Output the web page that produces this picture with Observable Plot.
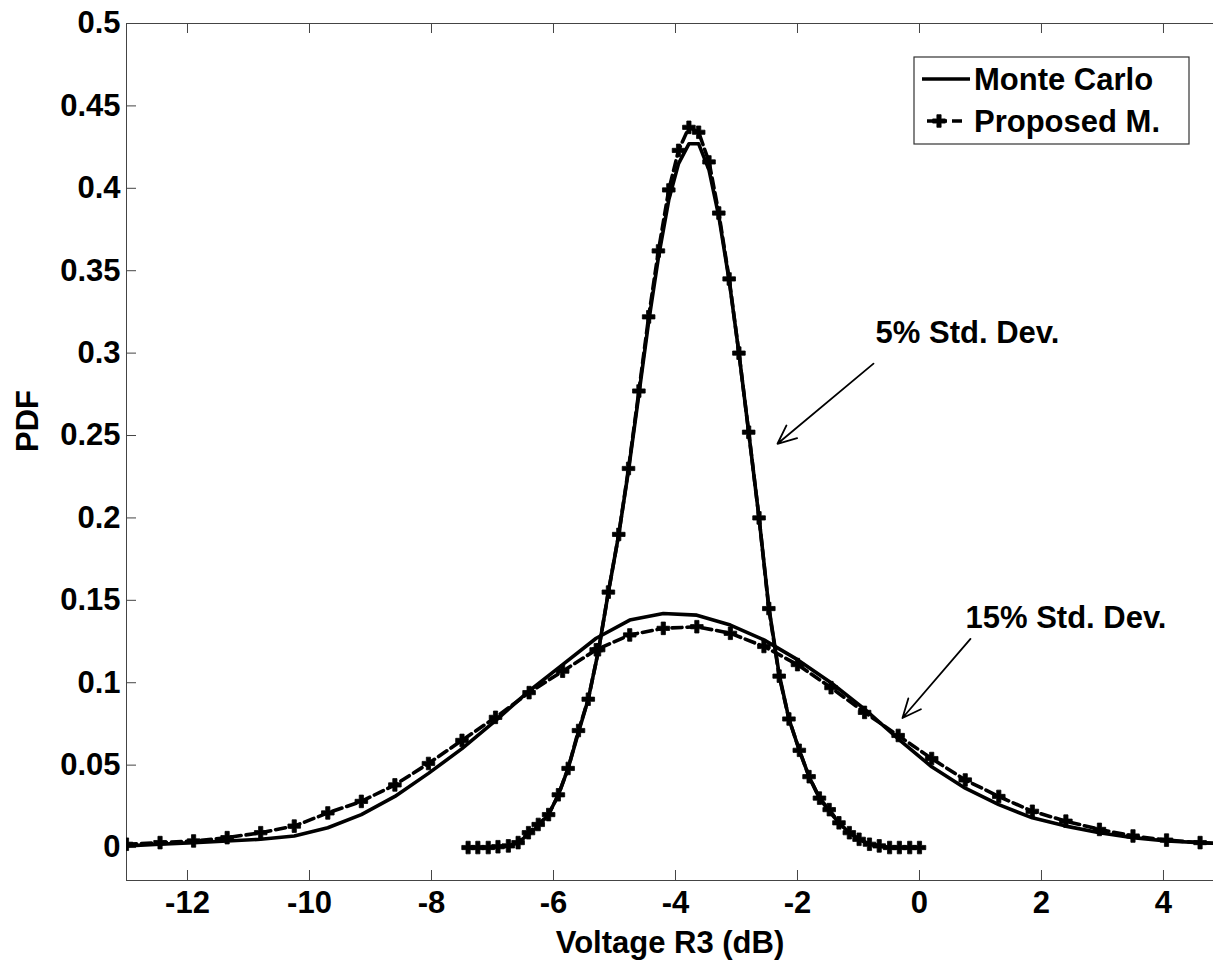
<!DOCTYPE html>
<html>
<head>
<meta charset="utf-8">
<script src="https://cdn.jsdelivr.net/npm/d3@7"></script>
<script src="https://cdn.jsdelivr.net/npm/@observablehq/plot@0.6"></script>
<style>
  html, body { margin: 0; padding: 0; background: #fff; }
  #chart svg { display: block; }
</style>
</head>
<body>
<div id="chart"></div>
<script>
// ---------- data ----------
const xTicks = [-12, -10, -8, -6, -4, -2, 0, 2, 4];
const yTicks = [0, 0.05, 0.1, 0.15, 0.2, 0.25, 0.3, 0.35, 0.4, 0.45, 0.5];

// 5% standard deviation curves
const narrowX = [-7.40, -7.24, -7.07, -6.91, -6.74, -6.58, -6.41, -6.25, -6.08, -5.92, -5.76, -5.59, -5.43, -5.26, -5.10, -4.93,
  -4.77, -4.60, -4.44, -4.28, -4.11, -3.95, -3.78, -3.62, -3.45, -3.29, -3.12, -2.96, -2.80, -2.63, -2.47, -2.30,
  -2.14, -1.97, -1.81, -1.64, -1.48, -1.32, -1.15, -0.99, -0.82, -0.66, -0.49, -0.33, -0.16, 0.00];
const narrowMC = [0, 0, 0, 0.0005, 0.001, 0.003, 0.008, 0.013, 0.020, 0.032, 0.048, 0.070, 0.090, 0.120, 0.155, 0.190,
  0.229, 0.275, 0.319, 0.358, 0.393, 0.415, 0.427, 0.427, 0.411, 0.383, 0.344, 0.300, 0.252, 0.200, 0.146, 0.105,
  0.078, 0.059, 0.043, 0.030, 0.022, 0.015, 0.009, 0.005, 0.002, 0.001, 0, 0, 0, 0];
const narrowPM = [0, 0, 0, 0.0005, 0.001, 0.003, 0.009, 0.014, 0.020, 0.032, 0.048, 0.071, 0.090, 0.120, 0.155, 0.190,
  0.230, 0.277, 0.322, 0.362, 0.399, 0.423, 0.437, 0.434, 0.416, 0.385, 0.345, 0.300, 0.252, 0.200, 0.145, 0.104,
  0.078, 0.059, 0.043, 0.030, 0.023, 0.015, 0.009, 0.005, 0.002, 0.001, 0, 0, 0, 0];

// 15% standard deviation curves
const wideX = [-13, -12.45, -11.9, -11.35, -10.8, -10.25, -9.7, -9.15, -8.6, -8.05, -7.5, -6.95, -6.4, -5.85, -5.3, -4.75, -4.2,
  -3.65, -3.1, -2.55, -2.0, -1.45, -0.9, -0.35, 0.2, 0.75, 1.3, 1.85, 2.4, 2.95, 3.5, 4.05, 4.6, 5.15];
const wideMC = [0.001, 0.002, 0.003, 0.004, 0.005, 0.007, 0.012, 0.020, 0.031, 0.045, 0.060, 0.077, 0.095, 0.111, 0.127, 0.138, 0.142,
  0.141, 0.135, 0.126, 0.114, 0.100, 0.084, 0.066, 0.049, 0.036, 0.026, 0.018, 0.013, 0.009, 0.006, 0.004, 0.003, 0.002];
const widePM = [0.002, 0.003, 0.004, 0.006, 0.009, 0.013, 0.021, 0.028, 0.038, 0.051, 0.065, 0.079, 0.094, 0.107, 0.120, 0.129, 0.133,
  0.134, 0.130, 0.122, 0.111, 0.097, 0.082, 0.068, 0.054, 0.041, 0.031, 0.022, 0.016, 0.011, 0.007, 0.0045, 0.003, 0.002];

// annotations (data coordinates)
const annoLabels = ["5% Std. Dev.", "15% Std. Dev."];
const annoTextX = [-0.72, 0.754];
const annoTextY = [0.312, 0.139];
const annoFromX = [-0.754, 0.836];
const annoFromY = [0.2936, 0.1266];
const annoToX = [-2.328, -0.279];
const annoToY = [0.245, 0.0786];

const seriesNames = ["Monte Carlo", "Proposed M."];
const xLabel = "Voltage R3 (dB)";
const yLabel = "PDF";

// ---------- build tables ----------
const narrow = narrowX.map((x, i) => ({x, mc: narrowMC[i], pm: narrowPM[i]}));
const wide = wideX.map((x, i) => ({x, mc: wideMC[i], pm: widePM[i]}));
const annos = annoLabels.map((label, i) => ({
  label, tx: annoTextX[i], ty: annoTextY[i],
  x1: annoFromX[i], y1: annoFromY[i], x2: annoToX[i], y2: annoToY[i]
}));

const W = 1213, H = 970;
const mL = 126, mR = 0, mT = 23, mB = 90;
const plotW = W - mL - mR, plotH = H - mT - mB;
const FONT = "'Liberation Sans', Arial, Helvetica, sans-serif";
const FS = 31;
const axisColor = "#444";
const LW = 3.6;
const DASH = "10,5";
const MR = 5.3;

const curveMarks = (data) => [
  Plot.line(data, {x: "x", y: "pm", stroke: "black", strokeWidth: LW, strokeDasharray: DASH, clip: true}),
  Plot.line(data, {x: "x", y: "mc", stroke: "black", strokeWidth: LW, clip: true}),
  Plot.dot(data, {x: "x", y: "pm", symbol: "cross", r: MR, fill: "black", stroke: "black", strokeWidth: 0.8, clip: true})
];

const chart = Plot.plot({
  width: W, height: H,
  marginLeft: mL, marginRight: mR, marginTop: mT, marginBottom: mB,
  style: {fontFamily: FONT, fontSize: FS + "px", fontWeight: "bold", background: "white", color: "black"},
  x: {domain: [-13, 4.82]},
  y: {domain: [-0.02, 0.5]},
  marks: [
    // frame (left, top, bottom)
    Plot.ruleX([-13], {stroke: axisColor, strokeWidth: 1}),
    Plot.ruleY([0.5], {stroke: axisColor, strokeWidth: 1}),
    Plot.ruleY([-0.02], {stroke: axisColor, strokeWidth: 1}),
    // inward ticks
    Plot.tickX(xTicks, {x: d => d, insetTop: plotH - 10, stroke: axisColor}),
    Plot.tickX(xTicks, {x: d => d, insetBottom: plotH - 10, stroke: axisColor}),
    Plot.tickY(yTicks, {y: d => d, insetRight: plotW - 10, stroke: axisColor}),
    // tick labels
    Plot.axisX(xTicks, {tickSize: 0, tickPadding: 10, tickFormat: d => String(d), label: null,
      fontSize: FS, fontWeight: "bold", fontFamily: FONT}),
    Plot.axisY(yTicks, {tickSize: 0, tickPadding: 6, tickFormat: d => String(+d.toFixed(2)), label: null,
      fontSize: FS, fontWeight: "bold", fontFamily: FONT}),
    // axis titles
    Plot.text([xLabel], {text: d => d, frameAnchor: "bottom", dy: 72, fontSize: FS, fontWeight: "bold", fontFamily: FONT}),
    Plot.text([yLabel], {text: d => d, frameAnchor: "left", dx: -98, rotate: -90, fontSize: FS, fontWeight: "bold", fontFamily: FONT}),
    // curves
    ...curveMarks(wide),
    ...curveMarks(narrow),
    // annotations
    Plot.arrow(annos, {x1: "x1", y1: "y1", x2: "x2", y2: "y2", stroke: "black", strokeWidth: 1.8, headLength: 17, headAngle: 48}),
    Plot.text(annos, {x: "tx", y: "ty", text: "label", textAnchor: "start", lineAnchor: "middle",
      fontSize: FS, fontWeight: "bold", fontFamily: FONT, fill: "black"})
  ]
});

document.getElementById("chart").appendChild(chart);

// ---------- legend (inside the plot area, top right) ----------
const svg = d3.select(chart);
const lg = svg.append("g").attr("class", "legend");
const bx = 914, by = 57, bw = 275, bh = 87;
lg.append("rect").attr("x", bx).attr("y", by).attr("width", bw).attr("height", bh)
  .attr("fill", "white").attr("stroke", "#333").attr("stroke-width", 1.2);
const rowY = [by + 22, by + 64];
// row 1: solid line
lg.append("line").attr("x1", bx + 8).attr("x2", bx + 56).attr("y1", rowY[0]).attr("y2", rowY[0])
  .attr("stroke", "black").attr("stroke-width", LW);
// row 2: dashed line with cross marker
lg.append("line").attr("x1", bx + 13).attr("x2", bx + 48).attr("y1", rowY[1]).attr("y2", rowY[1])
  .attr("stroke", "black").attr("stroke-width", LW).attr("stroke-dasharray", "20,5,10");
lg.append("path").attr("d", d3.symbol(d3.symbolCross, MR * MR * Math.PI)())
  .attr("transform", `translate(${bx + 25},${rowY[1]})`).attr("fill", "black")
  .attr("stroke", "black").attr("stroke-width", 0.8);
seriesNames.forEach((name, i) => {
  lg.append("text").attr("x", bx + 60).attr("y", rowY[i]).attr("dy", "0.35em")
    .attr("text-anchor", "start")
    .attr("font-family", FONT).attr("font-size", FS).attr("font-weight", "bold")
    .attr("fill", "black").text(name);
});
</script>
</body>
</html>
